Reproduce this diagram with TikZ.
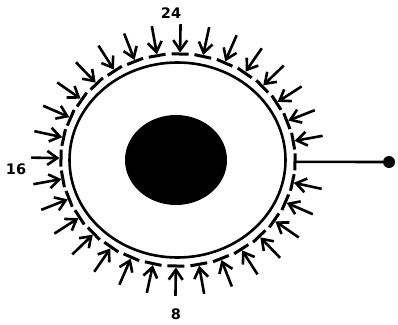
\documentclass[tikz,border=0pt]{standalone}
\usepackage{fontspec}
\setmainfont{DejaVu Sans}
\usetikzlibrary{arrows.meta}
\begin{document}
\begin{tikzpicture}[x=1pt,y=-1pt,
  ring/.style={line width=2.6pt},
  pad/.style={line width=3pt},
  probe/.style={line width=2.6pt,shorten >=1.5pt,-{Straight Barb[length=10pt,width=14pt,line width=2.6pt]}},
  lbl/.style={font=\fontsize{14.5}{16}\selectfont\bfseries, inner sep=0pt}]
\useasboundingbox (0,0) rectangle (398,324);
\draw[ring] (177.5,160) ellipse [x radius=108, y radius=97.5];
\fill (176,160) ellipse [x radius=51, y radius=45];
\foreach \k in {0,...,31}{
  \pgfmathsetmacro\a{-\k*11.25-1}
  \coordinate (e\k) at ({178+117*cos(\a)},{160-106*sin(\a)});
  \coordinate (a\k) at ({178+117*cos(\a)-8.5*sin(\a)},{160-106*sin(\a)-8.5*cos(\a)});
  \coordinate (b\k) at ({178+117*cos(\a)+8.5*sin(\a)},{160-106*sin(\a)+8.5*cos(\a)});
  \coordinate (t\k) at ({178+147*cos(\a)},{160-136*sin(\a)});
  \draw[pad] (a\k) -- (b\k);
  \ifnum\k>0 \draw[probe] (t\k) -- (e\k); \fi
}
\node[circle,fill,inner sep=0pt,minimum size=12pt] (dot) at (389,162) {};
\draw[ring] (e0) -- (dot);
\node[lbl] (l24) at (171,13) {24};
\node[lbl] (l16) at (16,169) {16};
\node[lbl] (l8) at (176,314) {8};
\end{tikzpicture}
\end{document}
